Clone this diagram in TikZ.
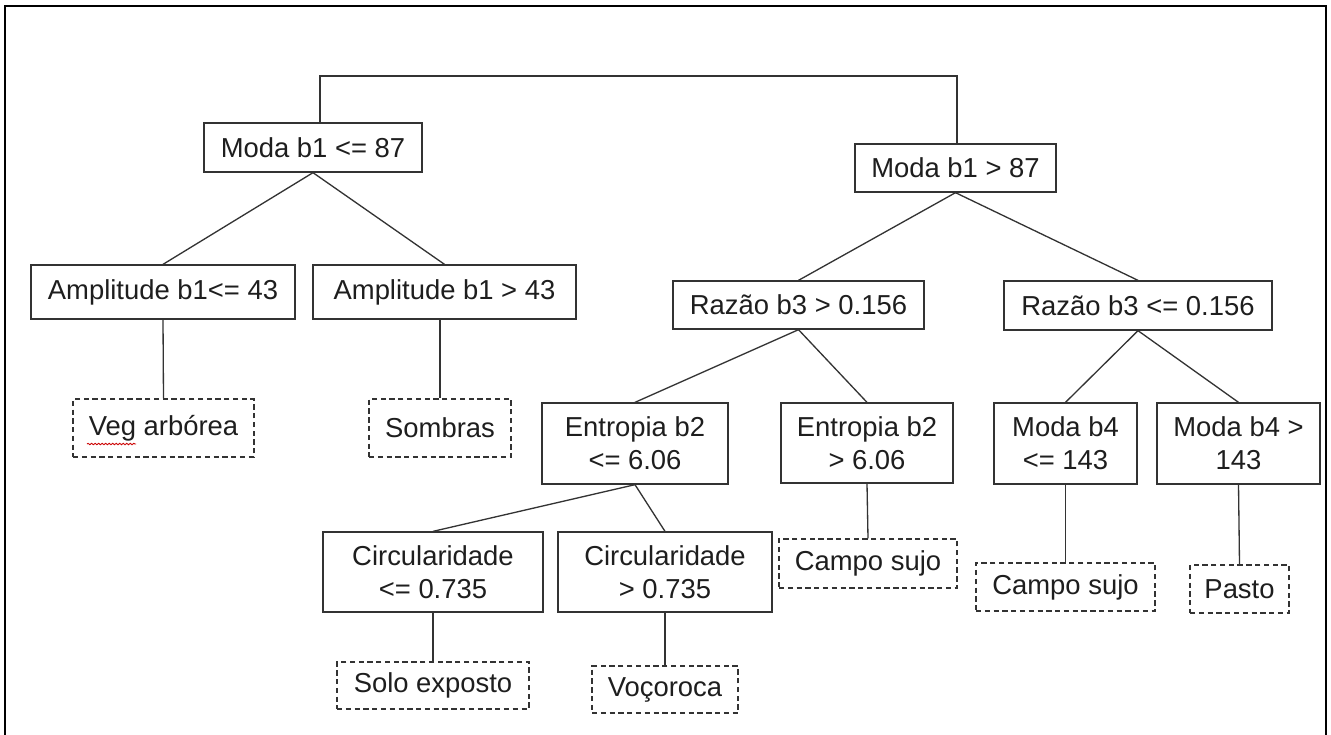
\documentclass[tikz,border=0pt]{standalone}
\usepackage{fontspec}
\setmainfont{Liberation Sans}
\usepackage{xcolor}
\usepackage{tikz}
\usetikzlibrary{backgrounds,decorations.pathmorphing}
\definecolor{ink}{HTML}{1E1E1E}
\definecolor{wire}{HTML}{333333}
\pgfdeclarelayer{edgelayer}
\pgfdeclarelayer{nodelayer}
\pgfsetlayers{edgelayer,nodelayer,main}
\tikzstyle{test}=[rectangle,draw=wire,fill=white,line width=0.75pt,inner sep=0pt,align=center,text=ink,font=\fontsize{15.6pt}{18.8pt}\selectfont]
\tikzstyle{leaf}=[test,dash pattern=on 3pt off 2pt]
\tikzstyle{simple}=[-,draw=wire,line width=0.75pt]
\tikzstyle{frame}=[-,draw=black,line width=1.6pt]
\tikzstyle{spell}=[-,draw=red!80!black,line width=0.5pt,decorate,decoration={snake,amplitude=0.4pt,segment length=2pt}]

\begin{document}
\begin{tikzpicture}
	\useasboundingbox (0,0) rectangle (26.62,-14.68);
	\begin{pgfonlayer}{nodelayer}
		\node [style=test, minimum width=4.36cm, minimum height=0.98cm] (mle) at (6.26, -2.95) {Moda b1 <= 87};
		\node [style=test, minimum width=4.02cm, minimum height=0.96cm] (mgt) at (19.11, -3.36) {Moda b1 > 87};

		\node [style=test, minimum width=5.28cm, minimum height=1.08cm] (ale) at (3.26, -5.84) {Amplitude b1<= 43};
		\node [style=test, minimum width=5.26cm, minimum height=1.08cm] (agt) at (8.89, -5.84) {Amplitude b1 > 43};
		\node [style=leaf, minimum width=3.62cm, minimum height=1.16cm] (veg) at (3.27, -8.56) {Veg arbórea};
		\node [style=leaf, minimum width=2.84cm, minimum height=1.16cm] (som) at (8.80, -8.56) {Sombras};

		\node [style=test, minimum width=5.02cm, minimum height=0.96cm] (rgt) at (15.97, -6.10) {Razão b3 > 0.156};
		\node [style=test, minimum width=5.36cm, minimum height=0.98cm] (rle) at (22.76, -6.11) {Razão b3 <= 0.156};

		\node [style=test, minimum width=3.72cm, minimum height=1.62cm] (ele) at (12.70, -8.87) {Entropia b2\\<= 6.06};
		\node [style=test, minimum width=3.44cm, minimum height=1.60cm] (egt) at (17.34, -8.86) {Entropia b2\\> 6.06};
		\node [style=test, minimum width=2.86cm, minimum height=1.62cm] (mble) at (21.31, -8.87) {Moda b4\\<= 143};
		\node [style=test, minimum width=3.26cm, minimum height=1.62cm] (mbgt) at (24.77, -8.87) {Moda b4 >\\143};

		\node [style=test, minimum width=4.40cm, minimum height=1.60cm] (cle) at (8.66, -11.44) {Circularidade\\<= 0.735};
		\node [style=test, minimum width=4.28cm, minimum height=1.60cm] (cgt) at (13.30, -11.44) {Circularidade\\> 0.735};
		\node [style=leaf, minimum width=3.56cm, minimum height=0.98cm] (csm) at (17.36, -11.27) {Campo sujo};
		\node [style=leaf, minimum width=3.58cm, minimum height=0.96cm] (csr) at (21.31, -11.74) {Campo sujo};
		\node [style=leaf, minimum width=1.98cm, minimum height=0.96cm] (pas) at (24.79, -11.78) {Pasto};

		\node [style=leaf, minimum width=3.84cm, minimum height=0.94cm] (solo) at (8.66, -13.71) {Solo exposto};
		\node [style=leaf, minimum width=2.92cm, minimum height=0.94cm] (voc) at (13.30, -13.79) {Voçoroca};

		\coordinate (rl) at (6.40, -1.52);
		\coordinate (rr) at (19.14, -1.52);
	\end{pgfonlayer}
	\begin{pgfonlayer}{edgelayer}
		\draw [style=simple] (rl |- mle.north) to (rl) to (rr) to (rr |- mgt.north);
		\draw [style=simple] (mle.south) to (ale.north);
		\draw [style=simple] (mle.south) to (agt.north);
		\draw [style=simple] (ale.south) to (veg.north);
		\draw [style=simple] (som.north |- agt.south) to (som.north);
		\draw [style=simple] (mgt.south) to (rgt.north);
		\draw [style=simple] (mgt.south) to (rle.north);
		\draw [style=simple] (rgt.south) to (ele.north);
		\draw [style=simple] (rgt.south) to (egt.north);
		\draw [style=simple] (rle.south) to (mble.north);
		\draw [style=simple] (rle.south) to (mbgt.north);
		\draw [style=simple] (ele.south) to (cle.north);
		\draw [style=simple] (ele.south) to (cgt.north);
		\draw [style=simple] (egt.south) to (csm.north);
		\draw [style=simple] (mble.south) to (csr.north);
		\draw [style=simple] (mbgt.south) to (pas.north);
		\draw [style=simple] (cle.south) to (solo.north);
		\draw [style=simple] (cgt.south) to (voc.north);
	\end{pgfonlayer}
	% page frame, open at the bottom
	\draw [style=frame] (0.10, -14.70) to (0.10, -0.12) to (26.52, -0.12) to (26.52, -14.70);
	\draw [style=spell] (1.74, -8.88) to (2.72, -8.88);
\end{tikzpicture}
\end{document}
